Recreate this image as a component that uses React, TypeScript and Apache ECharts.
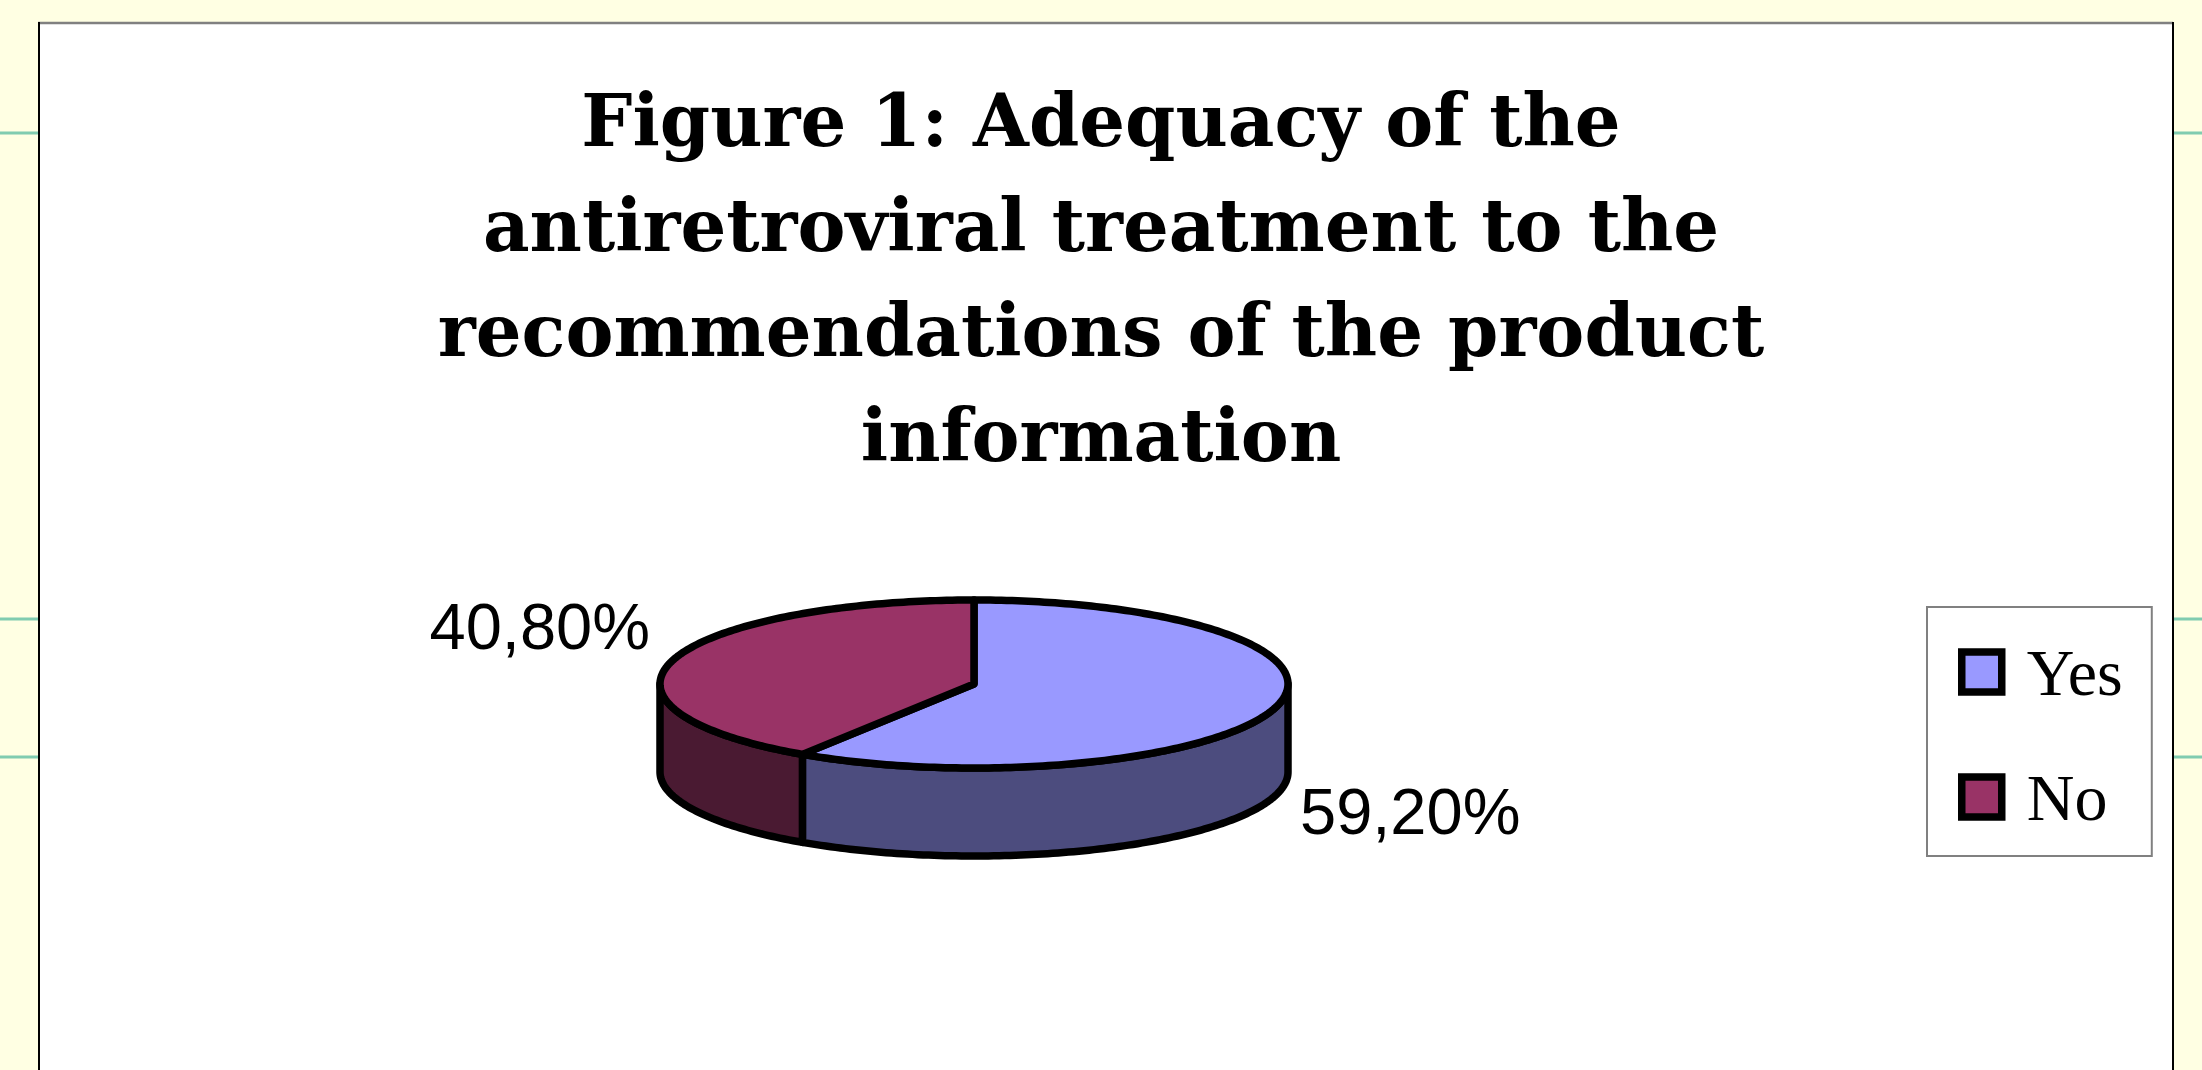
import React, { useEffect, useRef } from 'react';
import * as echarts from 'echarts';

// ---- data ----
const categories = ['Yes', 'No'];
const values = [59.2, 40.8];
const valueLabels = ['59,20%', '40,80%'];
const topColors = ['#9999FF', '#993366'];
const sideColors = ['#4C4C7E', '#4A1A32'];

const TITLE_LINES = [
  'Figure 1: Adequacy of the',
  'antiretroviral treatment to the',
  'recommendations of the product',
  'information',
];

// ---- layout ----
const W = 2202;
const H = 1070;
const CX = 974;
const CY = 684;
const RX = 314;
const RY = 84;
const DEPTH = 88;
const OUTLINE = 7.5;
// label offsets from the slice mid-angle point on the top ellipse
const LABEL_OFFSETS: [number, number, string][] = [
  [25, 104, 'left'],
  [-23, -34, 'right'],
];

const total = values.reduce((a, b) => a + b, 0);

function pt(t: number, dy: number): number[] {
  return [CX + RX * Math.sin(t), CY - RY * Math.cos(t) + dy];
}
function arcPts(a: number, b: number, dy: number): number[][] {
  const n = Math.max(2, Math.ceil(Math.abs(b - a) / (Math.PI / 180)));
  const out: number[][] = [];
  for (let k = 0; k <= n; k++) out.push(pt(a + ((b - a) * k) / n, dy));
  return out;
}

function renderSlice(params: any, api: any) {
  const i = params.seriesIndex;
  const v = api.value(0);
  let start = 0;
  for (let k = 0; k < i; k++) start += values[k];
  const a0 = (start / total) * 2 * Math.PI;
  const a1 = ((start + v) / total) * 2 * Math.PI;
  const children: any[] = [];
  const w0 = Math.max(a0, Math.PI / 2);
  const w1 = Math.min(a1, (3 * Math.PI) / 2);
  if (w1 > w0) {
    const top = arcPts(w0, w1, 0);
    const bot = arcPts(w1, w0, DEPTH);
    children.push({
      type: 'polygon',
      z2: 0,
      shape: { points: top.concat(bot) },
      style: { fill: sideColors[i], stroke: '#000000', lineWidth: OUTLINE, lineJoin: 'round' },
    });
  }
  children.push({
    type: 'polygon',
    z2: 10,
    shape: { points: [[CX, CY]].concat(arcPts(a0, a1, 0)) },
    style: { fill: topColors[i], stroke: '#000000', lineWidth: OUTLINE, lineJoin: 'round' },
  });
  const mid = (a0 + a1) / 2;
  const mp = pt(mid, 0);
  const off = LABEL_OFFSETS[i];
  children.push({
    type: 'text',
    z2: 20,
    x: mp[0] + off[0],
    y: mp[1] + off[1],
    style: {
      text: valueLabels[i],
      fill: '#000',
      fontSize: 65,
      fontFamily: '"Liberation Sans", Arial, sans-serif',
      align: off[2],
      verticalAlign: 'middle',
    },
  });
  return { type: 'group', children };
}

export default function App() {
  const ref = useRef<HTMLDivElement>(null);
  useEffect(() => {
    if (!ref.current) return;
    const chart = echarts.init(ref.current, null, { renderer: 'svg' });
    const bgLines = [133, 619, 757].map((y) => ({
      type: 'line',
      z: -10,
      shape: { x1: 0, y1: y, x2: W, y2: y },
      style: { stroke: '#80CCB0', lineWidth: 3 },
    }));
    chart.setOption({
      animation: false,
      backgroundColor: '#FFFFE3',
      title: {
        text: TITLE_LINES.join('\n'),
        left: 'center',
        top: 68,
        padding: 0,
        textStyle: {
          fontFamily: '"DejaVu Serif", serif',
          fontWeight: 'bold',
          fontSize: 72,
          lineHeight: 105,
          color: '#000',
        },
      },
      graphic: [
        ...bgLines,
        {
          type: 'rect',
          z: -5,
          shape: { x: 38, y: 22, width: 2135, height: H },
          style: { fill: '#FFFFFF', stroke: null },
        },
        {
          type: 'line',
          z: -4,
          shape: { x1: 38, y1: 23, x2: 2173, y2: 23 },
          style: { stroke: '#808080', lineWidth: 2.5 },
        },
        {
          type: 'line',
          z: -4,
          shape: { x1: 39, y1: 22, x2: 39, y2: H },
          style: { stroke: '#000', lineWidth: 2 },
        },
        {
          type: 'line',
          z: -4,
          shape: { x1: 2173, y1: 22, x2: 2173, y2: H },
          style: { stroke: '#000', lineWidth: 2 },
        },
      ],
      legend: {
        orient: 'vertical',
        left: 1927,
        top: 607,
        padding: [32, 29, 26, 31],
        itemWidth: 40,
        itemHeight: 40,
        itemGap: 59,
        backgroundColor: '#FFFFFF',
        borderColor: '#808080',
        borderWidth: 2,
        icon: 'rect',
        itemStyle: { borderColor: '#000000', borderWidth: 7.5 },
        textStyle: {
          fontFamily: '"Liberation Serif", "Times New Roman", serif',
          fontSize: 66,
          lineHeight: 66,
          color: '#000',
          padding: [0, 0, 0, 20],
        },
        data: categories,
      },
      series: categories.map((name, i) => ({
        type: 'custom',
        name,
        coordinateSystem: 'none',
        itemStyle: { color: topColors[i], borderColor: '#000000', borderWidth: 5 },
        data: [[values[i]]],
        renderItem: renderSlice,
      })),
    });
    return () => chart.dispose();
  }, []);
  return (
    <div
      ref={ref}
      style={{ position: 'absolute', left: 0, top: 0, width: W, height: H }}
    />
  );
}
